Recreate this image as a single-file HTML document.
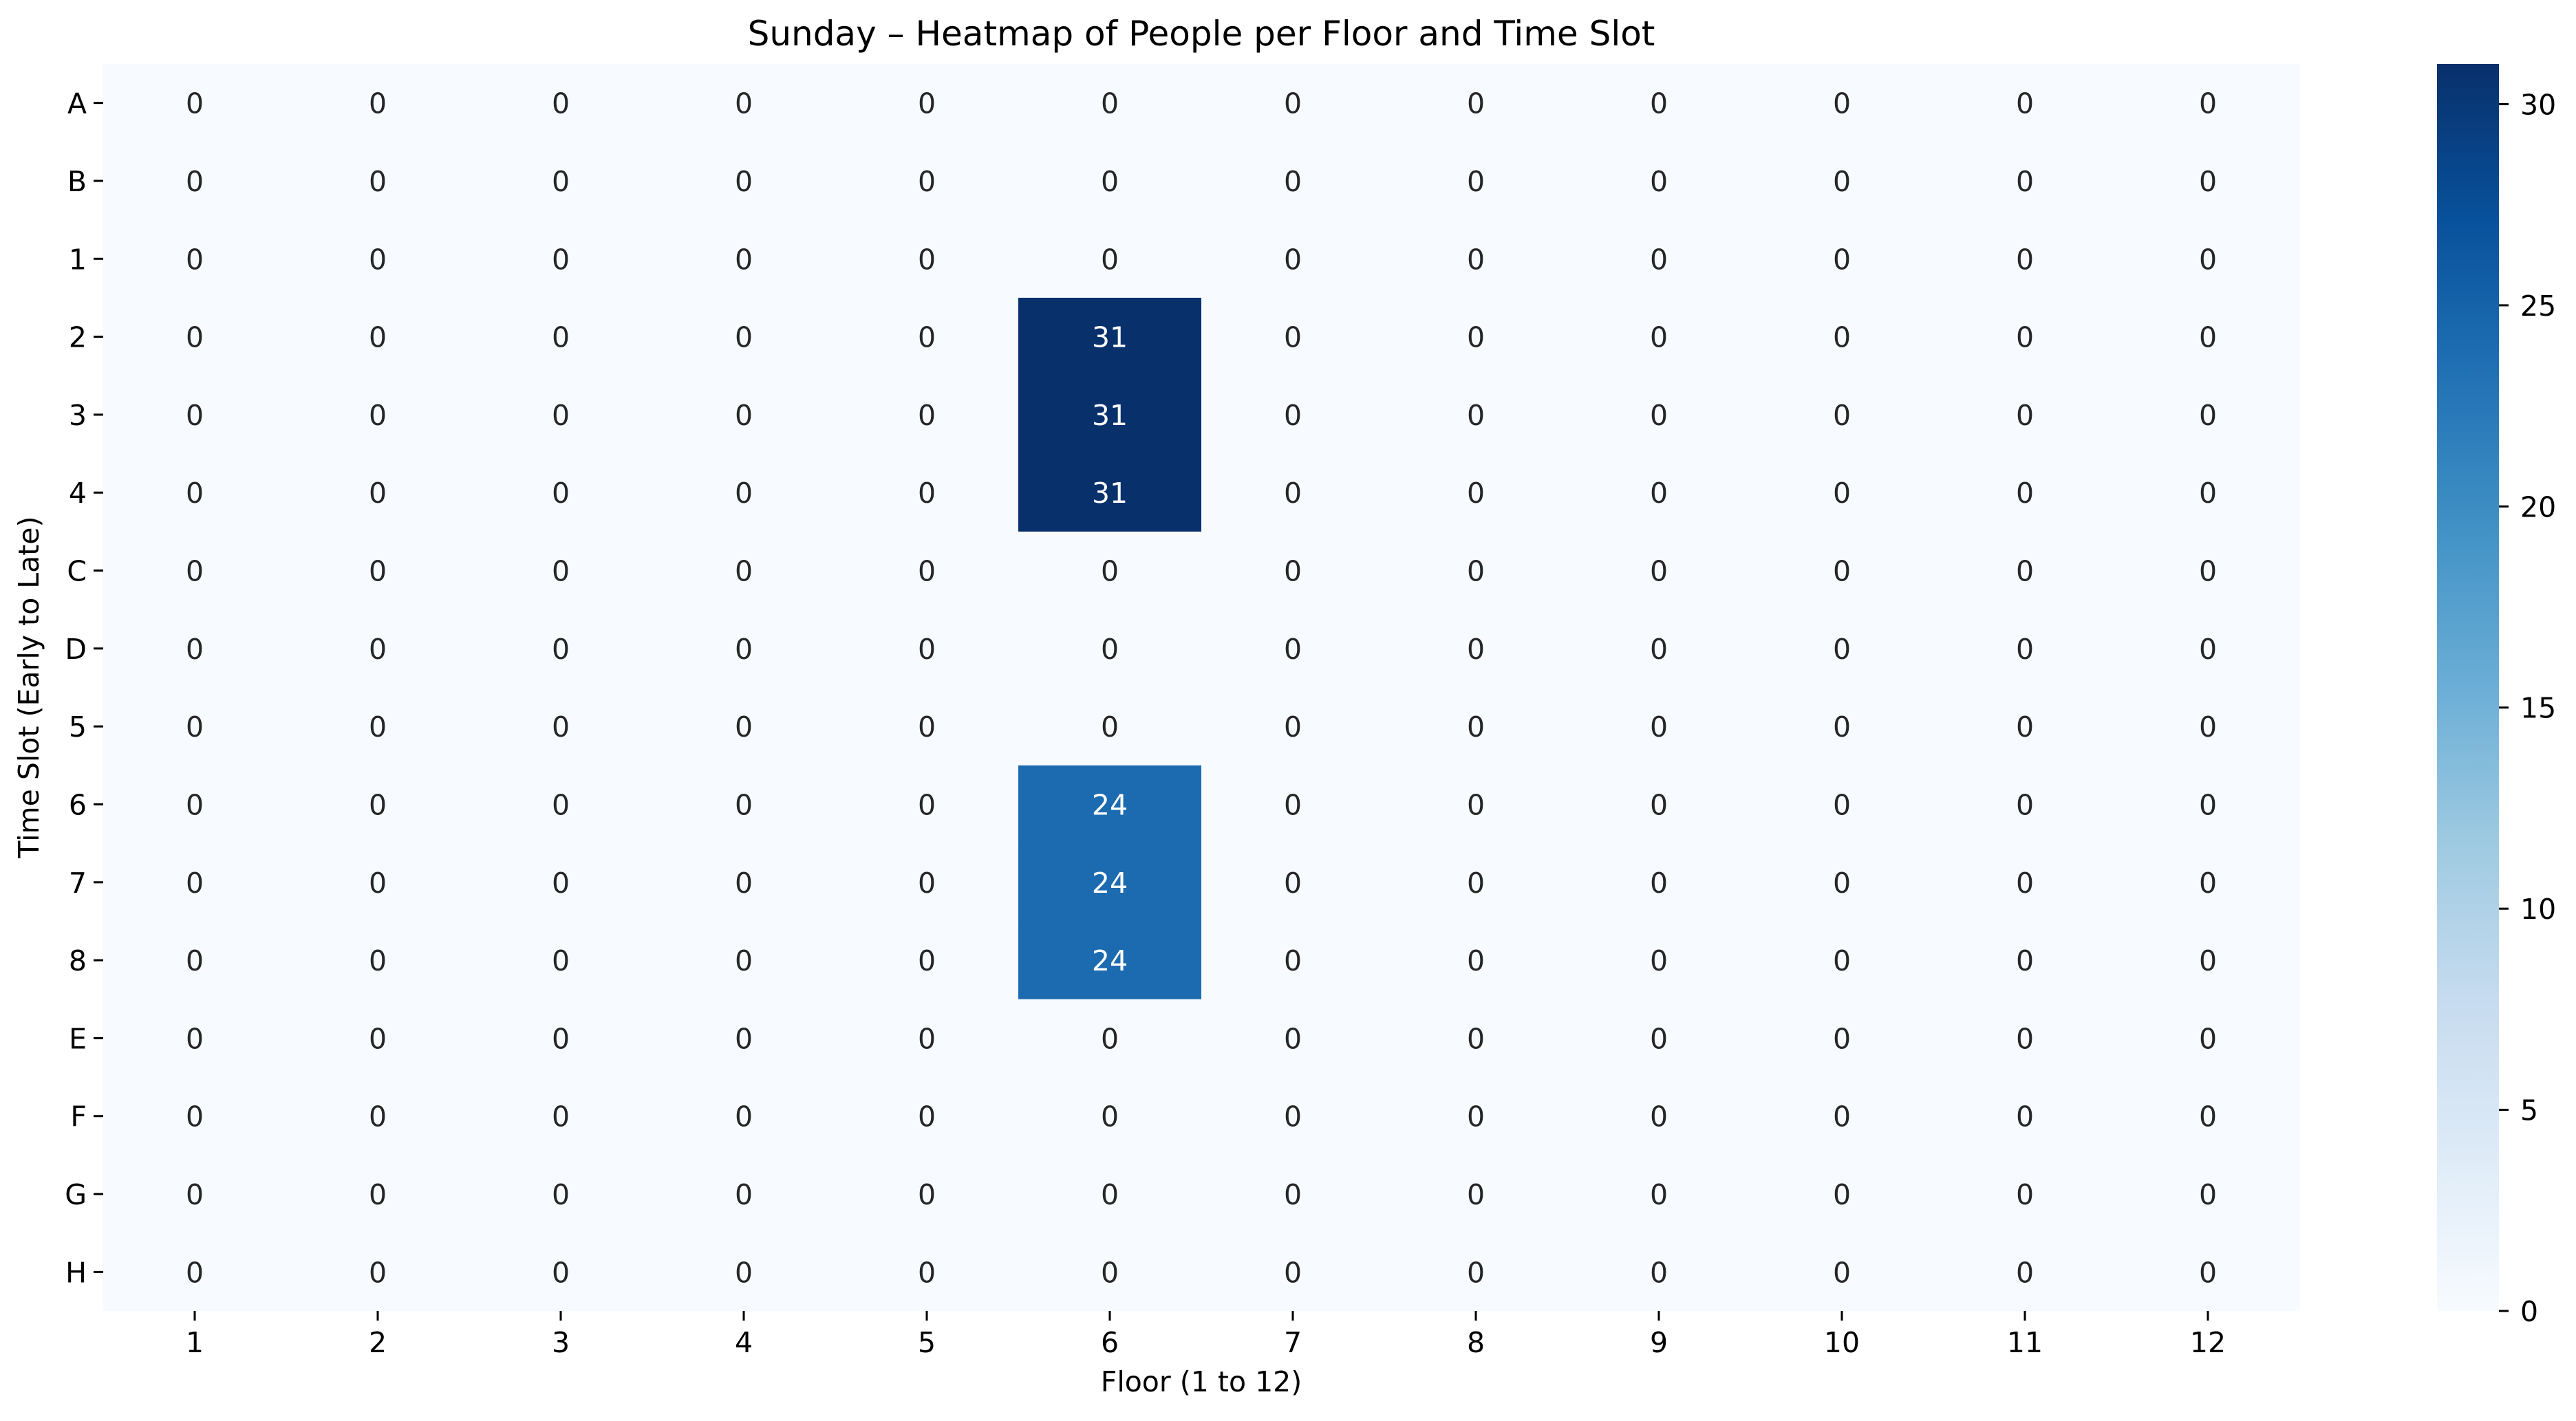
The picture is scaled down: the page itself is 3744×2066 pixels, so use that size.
<!DOCTYPE html>
<html><head><meta charset="utf-8"><style>
body{margin:0;background:#fff;}
svg{display:block;font-family:"DejaVu Sans","Liberation Sans",sans-serif;}
</style></head><body>
<svg id="chart" width="3744" height="2066" xmlns="http://www.w3.org/2000/svg">
<defs><linearGradient id="cbg" x1="0" y1="1" x2="0" y2="0">
<stop offset="0" stop-color="#f7fbff"/><stop offset="0.125" stop-color="#deebf7"/><stop offset="0.25" stop-color="#c6dbef"/><stop offset="0.375" stop-color="#9ecae1"/><stop offset="0.5" stop-color="#6baed6"/><stop offset="0.625" stop-color="#4292c6"/><stop offset="0.75" stop-color="#2171b5"/><stop offset="0.875" stop-color="#08519c"/><stop offset="1" stop-color="#08306b"/></linearGradient></defs>
<text x="1746" y="66" font-size="50" text-anchor="middle">Sunday – Heatmap of People per Floor and Time Slot</text>
<text x="1746" y="2023" font-size="41" text-anchor="middle">Floor (1 to 12)</text>
<text transform="translate(56,999) rotate(-90)" font-size="41" text-anchor="middle">Time Slot (Early to Late)</text>
<g id="cells"></g>
<rect x="3542" y="93" width="90" height="1813" fill="url(#cbg)"/>
<g id="cbticks"></g>
</svg>
<script>
const floors=["1","2","3","4","5","6","7","8","9","10","11","12"];
const slots=["A","B","1","2","3","4","C","D","5","6","7","8","E","F","G","H"];
const floor6Values=[0,0,0,31,31,31,0,0,0,24,24,24,0,0,0,0];
const colorTicks=[0,5,10,15,20,25,30];
const vmax=31;
const L=150,R=3342,T=93,B=1906;
const cw=(R-L)/floors.length, ch=(B-T)/slots.length;
const stops=[[0,"#f7fbff"],[0.125,"#deebf7"],[0.25,"#c6dbef"],[0.375,"#9ecae1"],[0.5,"#6baed6"],[0.625,"#4292c6"],[0.75,"#2171b5"],[0.875,"#08519c"],[1,"#08306b"]];
function hx(h){return [1,3,5].map(i=>parseInt(h.substr(i,2),16));}
function cmap(t){t=Math.max(0,Math.min(1,t));for(let i=1;i<stops.length;i++){if(t<=stops[i][0]){const a=stops[i-1],b=stops[i];const f=(t-a[0])/(b[0]-a[0]);const ca=hx(a[1]),cb=hx(b[1]);return 'rgb('+ca.map((v,k)=>Math.round(v+(cb[k]-v)*f)).join(',')+')';}}return stops[8][1];}
const NS="http://www.w3.org/2000/svg";
const g=document.getElementById('cells');
function el(t,a,p){const e=document.createElementNS(NS,t);for(const k in a)e.setAttribute(k,a[k]);p.appendChild(e);return e;}
slots.forEach((s,r)=>{
 floors.forEach((f,c)=>{
  const v=(f==="6")?floor6Values[r]:0;
  const rc=el('rect',{x:L+c*cw,y:T+r*ch,width:cw+0.5,height:ch+0.5,fill:cmap(v/vmax)},g);
  
  
  const tx=el('text',{x:L+(c+0.5)*cw,y:T+(r+0.5)*ch+15,'font-size':41,'text-anchor':'middle',fill:v/vmax>0.5?'#fff':'#262626'},g);
  tx.textContent=v;
  
  
 });
 const y=T+(r+0.5)*ch;
 const tk=el('line',{x1:L-14,x2:L,y1:y,y2:y,stroke:'#000','stroke-width':3},g);
 
 
 const lb=el('text',{x:L-24,y:y+15,'font-size':41,'text-anchor':'end'},g);
 lb.textContent=s;
 
 
});
floors.forEach((f,c)=>{
 const x=L+(c+0.5)*cw;
 const tk=el('line',{x1:x,x2:x,y1:B,y2:B+14,stroke:'#000','stroke-width':3},g);
 
 
 const lb=el('text',{x:x,y:B+60,'font-size':41,'text-anchor':'middle'},g);
 lb.textContent=f;
 
 
});
const cg=document.getElementById('cbticks');
colorTicks.forEach(v=>{
 const y=B-(v/vmax)*(B-T);
 const tk=el('line',{x1:3632,x2:3646,y1:y,y2:y,stroke:'#000','stroke-width':3},cg);
 
 
 const lb=el('text',{x:3663,y:y+15,'font-size':41},cg);
 lb.textContent=v;
 
 
});
</script>
</body></html>
